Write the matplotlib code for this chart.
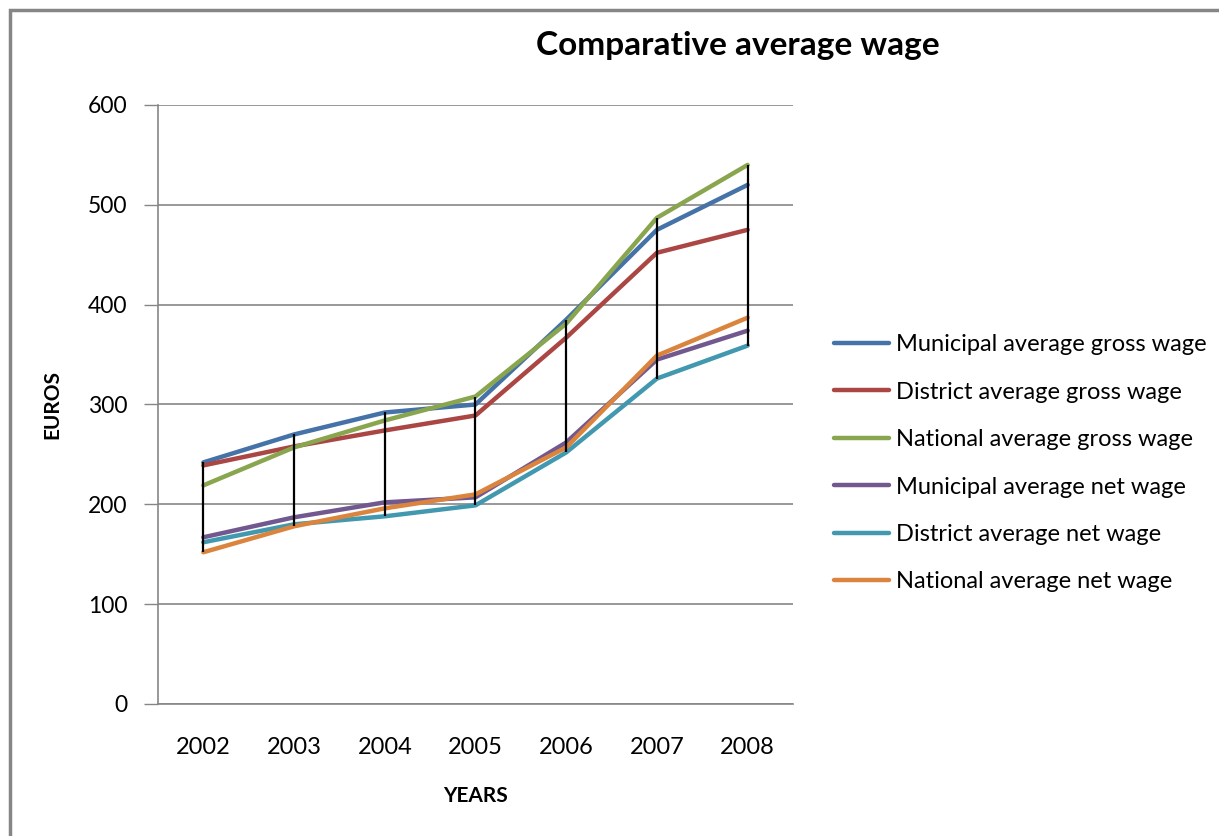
import matplotlib.pyplot as plt
from matplotlib.patches import Rectangle

# data
years = ["2002", "2003", "2004", "2005", "2006", "2007", "2008"]
municipal_gross = [242, 270, 292, 300, 385, 475, 520]
district_gross = [239, 258, 274, 289, 367, 452, 475]
national_gross = [219, 257, 284, 308, 381, 487, 540]
municipal_net = [167, 187, 202, 207, 262, 345, 374]
district_net = [162, 180, 188, 199, 252, 326, 359]
national_net = [152, 178, 196, 210, 257, 349, 387]

series = [
    ("Municipal average gross wage", municipal_gross, "#4572a7"),
    ("District average gross wage", district_gross, "#aa4643"),
    ("National average gross wage", national_gross, "#89a54e"),
    ("Municipal average net wage", municipal_net, "#71588f"),
    ("District average net wage", district_net, "#4198af"),
    ("National average net wage", national_net, "#db843d"),
]

plt.rcParams['font.family'] = ['Lato', 'DejaVu Sans']

fig = plt.figure(figsize=(12.19, 8.36), dpi=100)
# chart area border (Excel style)
fig.patches.append(Rectangle((10 / 1219, -0.05), 1.2, 1 - 10 / 836 + 0.05,
                             transform=fig.transFigure, fill=False,
                             edgecolor="#868686", linewidth=2.5))

ax = fig.add_axes([158 / 1219, 1 - 704 / 836, (793 - 158) / 1219, (704 - 105) / 836])
x = list(range(len(years)))

# high-low lines
for i in x:
    vals = [s[1][i] for s in series]
    ax.vlines(i, min(vals), max(vals), color="black", linewidth=1.6, zorder=3)

for name, vals, color in series:
    ax.plot(x, vals, color=color, linewidth=3.2, label=name, zorder=2,
            solid_capstyle="round")

ax.set_xlim(-0.5, len(years) - 0.5)
ax.set_ylim(0, 600)
ax.set_yticks(range(0, 601, 100))
ax.set_xticks(x)
ax.set_xticklabels(years)
ax.tick_params(axis="x", length=0, pad=24, labelsize=17)
ax.tick_params(axis="y", length=10, width=1, color="#868686", pad=12, labelsize=16.5)
ax.grid(axis="y", color="#868686", linewidth=1.2)
ax.set_axisbelow(True)
for side in ["top", "right"]:
    ax.spines[side].set_visible(False)
for side in ["left", "bottom"]:
    ax.spines[side].set_color("#868686")
    ax.spines[side].set_linewidth(1.2)

ax.set_xlabel("YEARS", fontsize=15, fontweight="bold", labelpad=20)
ax.set_ylabel("EUROS", fontsize=15, fontweight="bold", labelpad=18)
fig.text(738 / 1219, 1 - 46 / 836, "Comparative average wage", ha="center",
         va="center", fontsize=24, fontweight="bold")

fig.legend(loc="upper left", bbox_to_anchor=(813 / 1219, 1 - 313 / 836),
           frameon=False, fontsize=17, handlelength=2.3, handletextpad=0.3,
           labelspacing=1.12)

fig.savefig("out.png", dpi=100)
